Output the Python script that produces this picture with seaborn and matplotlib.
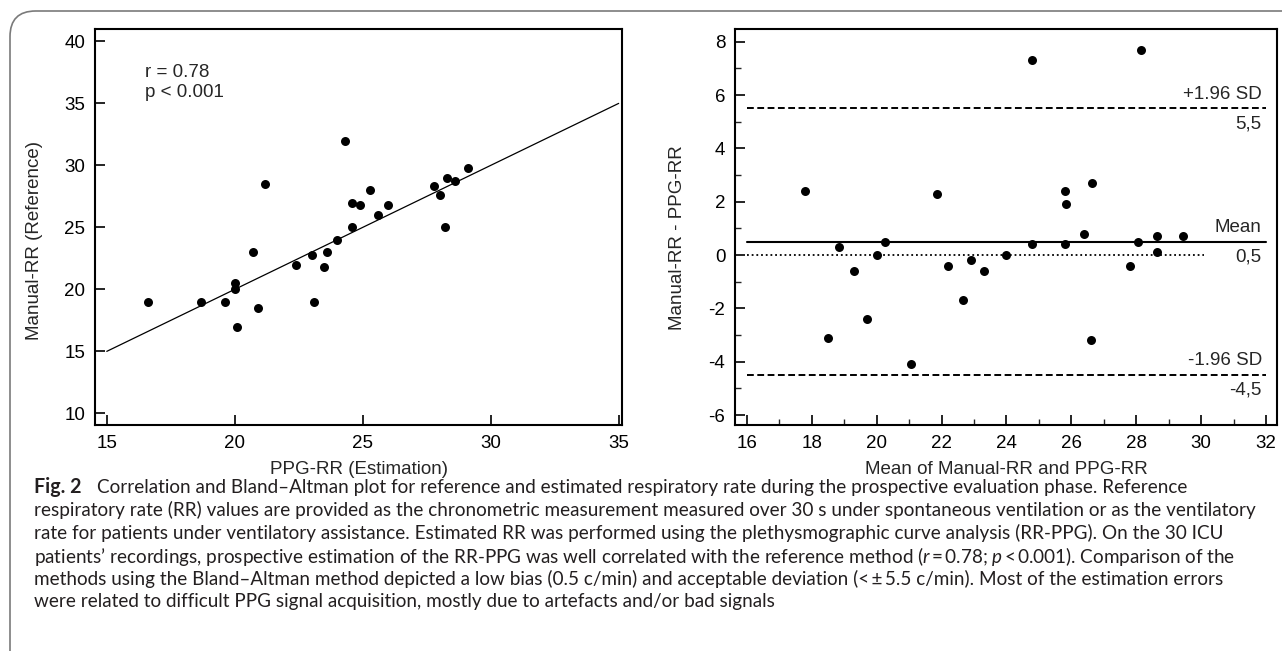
import numpy as np
import pandas as pd
import matplotlib
matplotlib.use("Agg")
import matplotlib.pyplot as plt
import seaborn as sns
from matplotlib.patches import FancyBboxPatch

# ---------------- data ----------------
# Correlation plot (left)
ppg_rr = [16.6, 18.7, 19.6, 20.0, 20.0, 20.1, 20.7, 20.9, 21.2, 22.4, 23.0, 23.1,
          23.5, 23.6, 24.0, 24.3, 24.6, 24.6, 24.9, 25.3, 25.6, 26.0, 27.8, 28.0,
          28.2, 28.3, 28.6, 29.1]
manual_rr = [19.0, 19.0, 19.0, 20.5, 20.0, 17.0, 23.0, 18.5, 28.5, 22.0, 22.8, 19.0,
             21.8, 23.0, 24.0, 32.0, 25.0, 27.0, 26.8, 28.0, 26.0, 26.8, 28.3, 27.6,
             25.0, 29.0, 28.7, 29.8]
identity_x = [15, 35]
identity_y = [15, 35]
r_text = "r = 0.78"
p_text = "p < 0.001"

# Bland-Altman plot (right)
ba_mean = [17.8, 18.5, 18.85, 19.3, 19.7, 20.0, 20.25, 21.05, 21.85, 22.2, 22.65, 22.9,
           23.3, 24.0, 24.8, 24.8, 25.8, 25.85, 25.8, 26.4, 26.65, 26.6, 27.8, 28.05,
           28.15, 28.65, 28.65, 29.45]
ba_diff = [2.4, -3.1, 0.3, -0.6, -2.4, 0.0, 0.5, -4.1, 2.3, -0.4, -1.7, -0.2,
           -0.6, 0.0, 7.3, 0.4, 2.4, 1.9, 0.4, 0.8, 2.7, -3.2, -0.4, 0.5,
           7.7, 0.7, 0.1, 0.7]
mean_bias = 0.5
upper_loa = 5.5
lower_loa = -4.5
zero_level = 0.0
ref_line_x = [16, 32]
zero_line_x = [16, 30.1]
upper_labels = ["+1.96 SD", "5,5"]
mean_labels = ["Mean", "0,5"]
lower_labels = ["-1.96 SD", "-4,5"]

left_xticks = [15, 20, 25, 30, 35]
left_yticks = [10, 15, 20, 25, 30, 35, 40]
right_xticks = [16, 18, 20, 22, 24, 26, 28, 30, 32]
right_yticks = [-6, -4, -2, 0, 2, 4, 6, 8]

caption_bold = "Fig. 2"
caption_lines = [
    "Correlation and Bland\u2013Altman plot for reference and estimated respiratory rate during the prospective evaluation phase. Reference",
    "respiratory rate (RR) values are provided as the chronometric measurement measured over 30 s under spontaneous ventilation or as the ventilatory",
    "rate for patients under ventilatory assistance. Estimated RR was performed using the plethysmographic curve analysis (RR-PPG). On the 30 ICU",
    "patients\u2019 recordings, prospective estimation of the RR-PPG was well correlated with the reference method ($r$\u2009=\u20090.78; $p$\u2009<\u20090.001). Comparison of the",
    "methods using the Bland\u2013Altman method depicted a low bias (0.5 c/min) and acceptable deviation (<\u2009\u00b1\u20095.5 c/min). Most of the estimation errors",
    "were related to difficult PPG signal acquisition, mostly due to artefacts and/or bad signals",
]

# ---------------- style ----------------
sns.set_style("ticks")
plt.rcParams['font.family'] = ['Liberation Sans', 'DejaVu Sans']
plt.rcParams['axes.unicode_minus'] = False
plt.rcParams['mathtext.fontset'] = 'custom'
plt.rcParams['mathtext.rm'] = 'Lato'
plt.rcParams['mathtext.it'] = 'Lato:italic'
plt.rcParams['mathtext.bf'] = 'Lato:bold'

W, H = 1282, 651
fig = plt.figure(figsize=(W / 100, H / 100), dpi=100)

def px_rect(x0, y0, x1, y1):
    return [x0 / W, 1 - y1 / H, (x1 - x0) / W, (y1 - y0) / H]

ax1 = fig.add_axes(px_rect(95, 29, 622, 425))
ax2 = fig.add_axes(px_rect(735, 29, 1277, 425))

FS = 13.5
for ax in (ax1, ax2):
    for s in ax.spines.values():
        s.set_linewidth(1.5)
        s.set_color("black")
    ax.tick_params(direction="in", length=7.5, width=1.2, labelsize=FS, pad=7,
                   colors="black", top=False, right=False)

# ---- left: correlation ----
df1 = pd.DataFrame({"ppg": ppg_rr, "manual": manual_rr})
sns.lineplot(x=identity_x, y=identity_y, ax=ax1, color="black", lw=0.9)
sns.scatterplot(data=df1, x="ppg", y="manual", ax=ax1, color="black", s=42,
                edgecolor="black", linewidth=0)
ax1.set_xlim(14.54, 35.13)
ax1.set_ylim(9.06, 41.0)
ax1.set_xticks(left_xticks)
ax1.set_yticks(left_yticks)
ax1.set_xlabel("PPG-RR (Estimation)", fontsize=FS, labelpad=7)
ax1.set_ylabel("Manual-RR (Reference)", fontsize=FS)
ax1.yaxis.set_label_coords(-0.099, 0.467)
ax1.text(0.095, 0.865, r_text + "\n" + p_text, transform=ax1.transAxes,
         fontsize=FS, va="center", ha="left", linespacing=1.25)

# ---- right: Bland-Altman ----
df2 = pd.DataFrame({"mean": ba_mean, "diff": ba_diff})
ls_dash = (0, (3.5, 1.8))
sns.lineplot(x=ref_line_x, y=[upper_loa] * 2, ax=ax2, color="black", lw=1.4, linestyle=ls_dash)
sns.lineplot(x=ref_line_x, y=[lower_loa] * 2, ax=ax2, color="black", lw=1.4, linestyle=ls_dash)
sns.lineplot(x=ref_line_x, y=[mean_bias] * 2, ax=ax2, color="black", lw=1.5)
sns.lineplot(x=zero_line_x, y=[zero_level] * 2, ax=ax2, color="black", lw=1.3,
             linestyle=(0, (1, 1.6)))
sns.scatterplot(data=df2, x="mean", y="diff", ax=ax2, color="black", s=42,
                edgecolor="black", linewidth=0, zorder=5)
ax2.set_xlim(15.63, 32.34)
ax2.set_ylim(-6.375, 8.475)
ax2.set_xticks(right_xticks)
ax2.set_yticks(right_yticks)
ax2.set_xticks(np.arange(17, 32, 2), minor=True)
ax2.set_yticks(np.arange(-5, 8, 2), minor=True)
ax2.tick_params(which="minor", direction="in", length=4, width=1.0, top=False, right=False)
ax2.set_xlabel("Mean of Manual-RR and PPG-RR", fontsize=FS, labelpad=7)
ax2.set_ylabel("Manual-RR - PPG-RR", fontsize=FS)
ax2.yaxis.set_label_coords(-0.090, 0.472)

for level, labs in ((upper_loa, upper_labels), (mean_bias, mean_labels), (lower_loa, lower_labels)):
    ax2.annotate(labs[0], xy=(ref_line_x[1], level), xytext=(-3, 4), textcoords="offset points",
                 ha="right", va="bottom", fontsize=FS)
    ax2.annotate(labs[1], xy=(ref_line_x[1], level), xytext=(-3, -5), textcoords="offset points",
                 ha="right", va="top", fontsize=FS)

# ---- frame border ----
border = FancyBboxPatch((10 / W, -0.1), 1.2, 1 - 11 / H + 0.1,
                        boxstyle="round,pad=0,rounding_size=0.02",
                        transform=fig.transFigure, fill=False, edgecolor="#7a7a7a",
                        linewidth=1.2, mutation_aspect=W / H, clip_on=False)
fig.patches.append(border)

# ---- caption ----
cap_font = ['Lato', 'DejaVu Sans']
CFS = 13.6
line_y = [487, 510, 533, 556, 579, 602]
fig.text(34 / W, 1 - line_y[0] / H, caption_bold, fontsize=CFS + 0.5, fontweight="bold",
         family=cap_font, color="#231f20", va="center", ha="left")
fig.text(97 / W, 1 - line_y[0] / H, caption_lines[0], fontsize=CFS,
         family=cap_font, color="#231f20", va="center", ha="left")
for yy, line in zip(line_y[1:], caption_lines[1:]):
    fig.text(34 / W, 1 - yy / H, line, fontsize=CFS, family=cap_font,
             color="#231f20", va="center", ha="left")

fig.savefig("out.png", dpi=100)
